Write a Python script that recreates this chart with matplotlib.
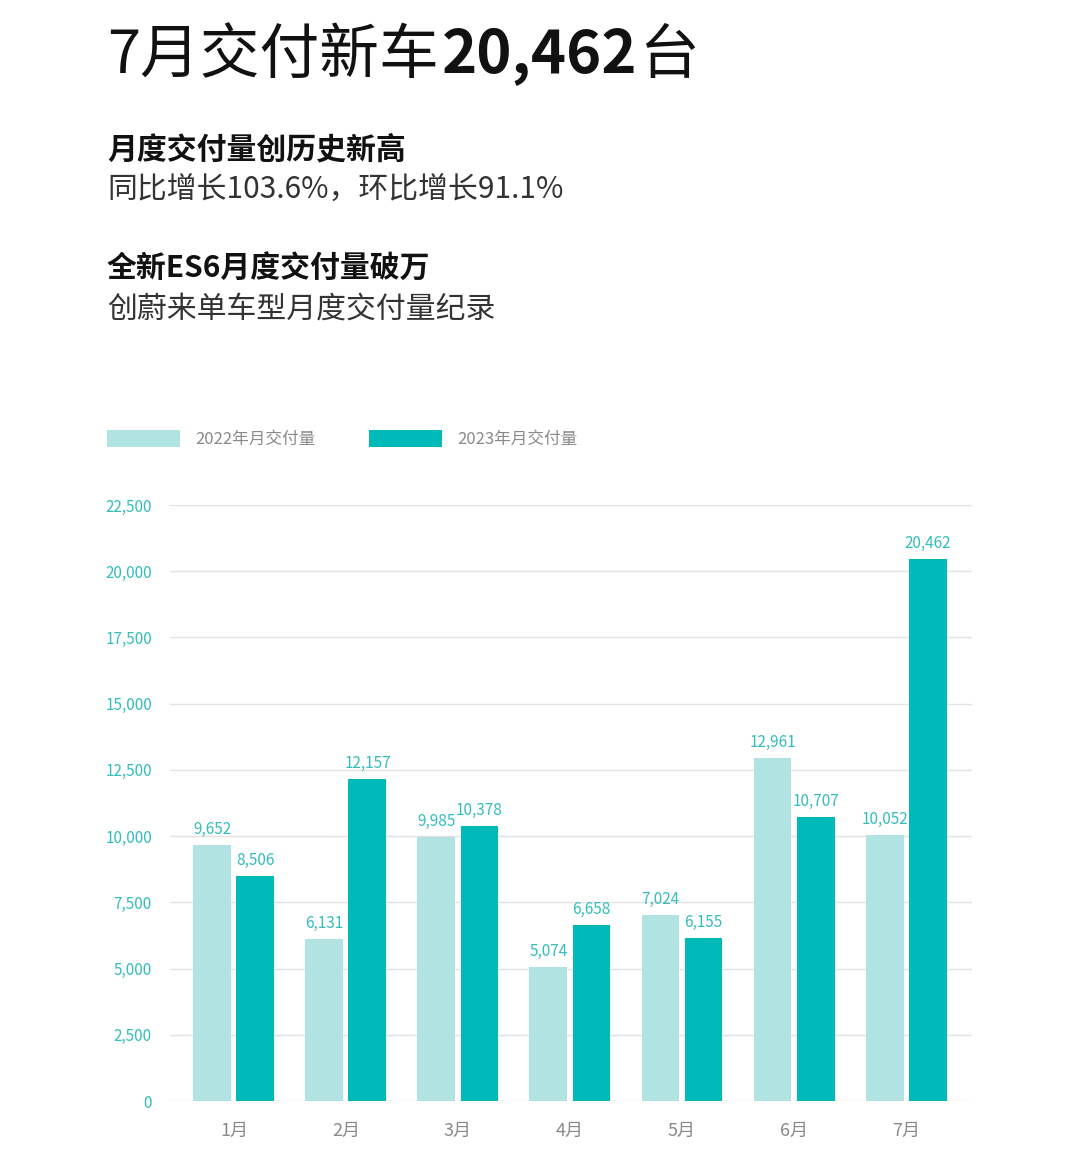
import matplotlib
matplotlib.use('Agg')
import matplotlib.pyplot as plt
import numpy as np
from matplotlib.patches import Rectangle

plt.rcParams['font.family'] = ['Noto Sans CJK SC', 'DejaVu Sans']

months = ['1月', '2月', '3月', '4月', '5月', '6月', '7月']
deliveries_2022 = [9652, 6131, 9985, 5074, 7024, 12961, 10052]
deliveries_2023 = [8506, 12157, 10378, 6658, 6155, 10707, 20462]
y_ticks = [0, 2500, 5000, 7500, 10000, 12500, 15000, 17500, 20000, 22500]
legend_labels = ['2022年月交付量', '2023年月交付量']

LIGHT = '#b2e3e3'
DARK = '#00b9b9'
TEAL_TEXT = '#33bdbd'
GRAY_TEXT = '#8a8a8a'

W, H = 1080, 1160
fig = plt.figure(figsize=(W / 100, H / 100), dpi=100)
fig.patch.set_facecolor('white')


def px(x, y):
    return x / W, 1 - y / H


# header: title with mixed weights
renderer = fig.canvas.get_renderer()
x0 = 107
for part, weight in [('7月交付新车', 'light'), ('20,462', 'bold'), ('台', 'light')]:
    t = fig.text(*px(x0, 56), part, fontsize=43, fontweight=weight,
                 color='#111111', va='center', ha='left')
    bb = t.get_window_extent(renderer)
    x0 += bb.width + 3

fig.text(*px(107, 149), '月度交付量创历史新高', fontsize=21.5, fontweight='bold',
         color='#111111', va='center')
fig.text(*px(107, 189), '同比增长103.6%，环比增长91.1%', fontsize=21.5,
         color='#333333', va='center')
fig.text(*px(107, 269), '全新ES6月度交付量破万', fontsize=21.5, fontweight='bold',
         color='#111111', va='center')
fig.text(*px(107, 309), '创蔚来单车型月度交付量纪录', fontsize=21.5,
         color='#333333', va='center')

# legend
for (lx, tx), label, col in zip([(107, 195), (369, 457)], legend_labels, [LIGHT, DARK]):
    fig.patches.append(Rectangle(px(lx, 447), 73 / W, 17 / H, transform=fig.transFigure,
                                 facecolor=col, edgecolor='none'))
    fig.text(*px(tx, 439), label, fontsize=12, color=GRAY_TEXT, va='center')

# chart
ax = fig.add_axes([170 / W, 1 - 1101 / H, (972 - 170) / W, (1101 - 505) / H])
x = np.arange(len(months))
bw = 0.339
off = 0.192
b1 = ax.bar(x - off, deliveries_2022, bw, color=LIGHT, zorder=2)
b2 = ax.bar(x + off, deliveries_2023, bw, color=DARK, zorder=2)

for bars, vals in [(b1, deliveries_2022), (b2, deliveries_2023)]:
    for rect, v in zip(bars, vals):
        ax.annotate(f'{v:,}', (rect.get_x() + rect.get_width() / 2, v),
                    xytext=(0, 5), textcoords='offset points', ha='center', va='bottom',
                    fontsize=11, color=TEAL_TEXT)

ax.set_ylim(0, 22500)
ax.set_xlim(-0.571, 6.589)
ax.set_yticks(y_ticks)
ax.set_yticklabels([f'{v:,}' for v in y_ticks])
ax.set_xticks(x)
ax.set_xticklabels(months)
ax.grid(axis='y', color='#e3e3e3', linewidth=1, zorder=0)
for s in ax.spines.values():
    s.set_visible(False)
ax.tick_params(axis='y', length=0, pad=13, labelsize=11, labelcolor=TEAL_TEXT)
ax.tick_params(axis='x', length=0, pad=15, labelsize=13, labelcolor=GRAY_TEXT)

fig.savefig('out.png', dpi=100, facecolor='white')
